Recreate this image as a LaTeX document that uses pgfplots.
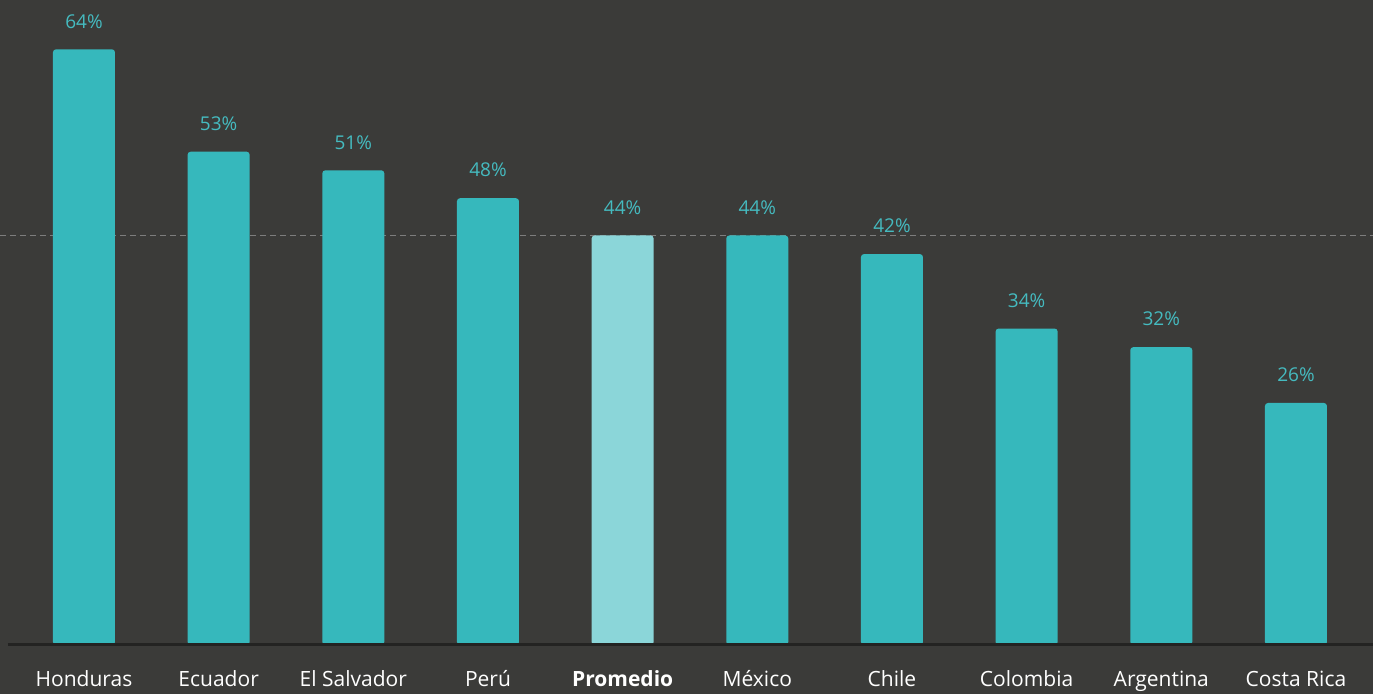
\documentclass[border=0pt]{standalone}
\usepackage{pgfplots}
\pgfplotsset{compat=1.18}
\usepackage{fontspec}
\setmainfont{Open Sans}
\definecolor{bg}{HTML}{3B3B39}
\definecolor{barc}{HTML}{36B8BC}
\definecolor{avgc}{HTML}{8BD6D9}
\definecolor{valc}{HTML}{45BBC0}
\definecolor{dashc}{HTML}{7E7E7E}
\definecolor{basec}{HTML}{232322}
\begin{document}
\begin{tikzpicture}
% picture background
\fill[bg] (0,-24.5pt) rectangle (686.5pt,322.5pt);
\begin{axis}[
    name=ax,
    scale only axis,
    width=686.5pt,
    height=322.5pt,
    xmin=-0.6236, xmax=9.572,
    ymin=0, ymax=69.3,
    axis line style={draw=none},
    ytick=\empty,
    xtick={0,...,9},
    xticklabels={Honduras,Ecuador,El Salvador,Perú,\textbf{Promedio},México,Chile,Colombia,Argentina,Costa Rica},
    xticklabel style={text=white, font=\fontsize{10.5}{12}\selectfont, yshift=-9.3pt},
    major tick length=0pt,
    clip=false,
    ybar,
    bar width=31pt,
    /pgf/number format/assume math mode=true,
    nodes near coords={\pgfmathprintnumber{\pgfplotspointmeta}\%},
    every node near coord/.append style={text=valc, font=\fontsize{9.5}{11}\selectfont, yshift=7pt},
]
% reference line at the average
\draw[dashc, line width=0.6pt, dash pattern=on 3pt off 2pt] (axis cs:-0.6236,44) -- (axis cs:9.572,44);

\addplot[fill=barc, draw=none, bar shift=0pt, rounded corners=1.5pt] coordinates {
    (0,64) (1,53) (2,51) (3,48) (5,44) (6,42) (7,34) (8,32) (9,26)
};
\addplot[fill=avgc, draw=none, bar shift=0pt, rounded corners=1.5pt] coordinates {
    (4,44)
};

% base line
\draw[basec, line width=1.5pt] (axis cs:-0.565,0) -- (axis cs:9.572,0);
\end{axis}
\pgfresetboundingbox
\path (0,-24.5pt) rectangle (686.5pt,322.5pt);
\end{tikzpicture}
\end{document}
